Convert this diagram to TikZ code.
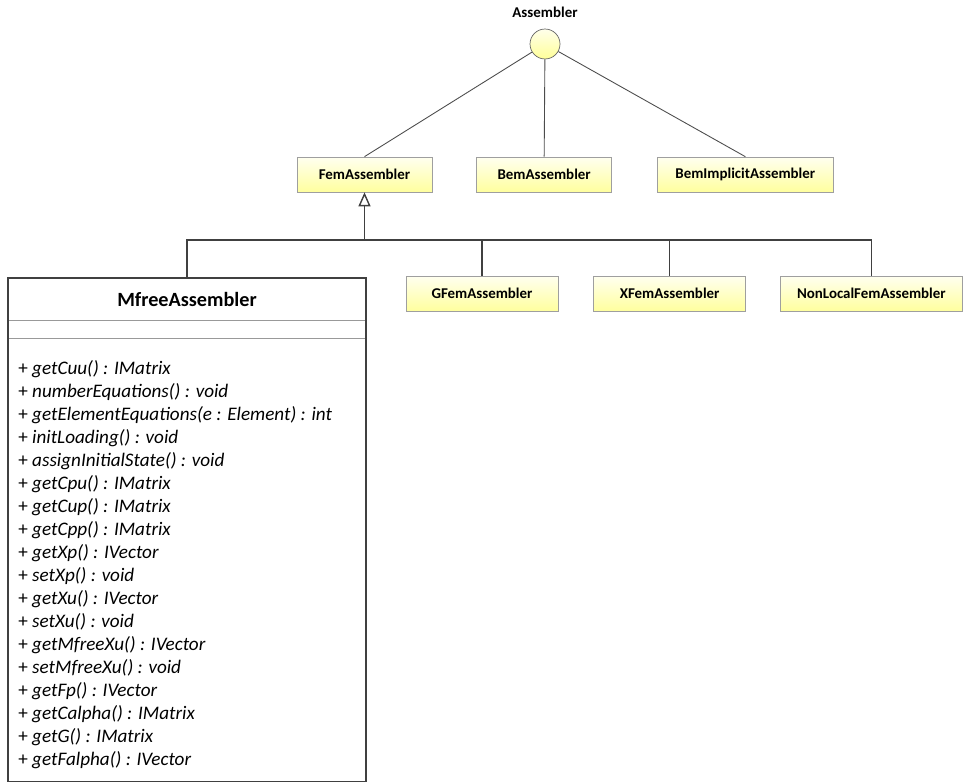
\documentclass[tikz,border=0pt]{standalone}
\usepackage{fontspec}
\setmainfont{Carlito}
\usepackage{tikz}
\usetikzlibrary{arrows.meta,positioning}

\begin{document}
\begin{tikzpicture}[
    x=0.02cm, y=-0.02cm,
    node distance=0.88cm and 0.88cm,
    every node/.style={font=\fontsize{8.5}{10}\selectfont\bfseries},
    box/.style={draw=gray!75, top color=yellow!6, bottom color=yellow!38, minimum height=0.7cm, minimum width=2.7cm, inner sep=0pt},
    iface/.style={circle, draw=gray!80!black, top color=yellow!8, bottom color=yellow!40, minimum size=0.6cm, inner sep=0pt},
    link/.style={draw=black!70, line width=0.5pt},
    gen/.style={draw=black!75, line width=0.8pt},
    arr/.style={gen, -{Triangle[open, length=0.28cm, width=0.24cm]}},
    method/.style={anchor=base west, inner sep=0pt, font=\fontsize{10.9}{12}\selectfont},
]
    \useasboundingbox (0,0) rectangle (963,781);

    % interface
    \node[iface] (asm) at (545,44) {};
    \node[above=0.1cm of asm] (asmlabel) {Assembler};

    % first row
    \node[box] (fem) at (364.5,174.5) {FemAssembler};
    \node[box, right=of fem] (bem) {BemAssembler};
    \node[box, minimum width=3.52cm, right=0.9cm of bem] (bemimpl) {BemImplicitAssembler};

    \draw[link] (asm) -- (fem.north);
    \draw[link] (asm) -- (bem.north);
    \draw[link] (asm) -- (bemimpl.north);

    % second row
    \node[box, minimum width=3.04cm] (gfem) at (482,293.5) {GFemAssembler};
    \node[box, minimum width=3.04cm, right=0.7cm of gfem] (xfem) {XFemAssembler};
    \node[box, minimum width=3.64cm, right=0.68cm of xfem] (nlfem) {NonLocalFemAssembler};

    % MfreeAssembler class
    \node[anchor=north, minimum width=7.16cm, minimum height=0.84cm, inner sep=0pt,
          font=\fontsize{11.5}{13}\selectfont\bfseries] (mfree) at (187,278) {MfreeAssembler};
    \node[below=0cm of mfree, minimum width=7.16cm, minimum height=0.34cm, inner sep=0pt] (mfreeattr) {};
    \node[below=0cm of mfreeattr, minimum width=7.16cm, minimum height=8.86cm, inner sep=0pt] (mfreeops) {};
    \draw[draw=gray!80] (mfreeattr.north west) -- (mfreeattr.north east);
    \draw[draw=gray!80] (mfreeattr.south west) -- (mfreeattr.south east);
    \draw[draw=black!75, line width=1.1pt] (mfree.north west) rectangle (mfreeops.south east);

    \foreach \m [count=\i] in {
        getCuu() : IMatrix,
        numberEquations() : void,
        getElementEquations(e : Element) : int,
        initLoading() : void,
        assignInitialState() : void,
        getCpu() : IMatrix,
        getCup() : IMatrix,
        getCpp() : IMatrix,
        getXp() : IVector,
        setXp() : void,
        getXu() : IVector,
        setXu() : void,
        getMfreeXu() : IVector,
        setMfreeXu() : void,
        getFp() : IVector,
        getCalpha() : IMatrix,
        getG() : IMatrix,
        getFalpha() : IVector}
        \node[method] (op\i) at (18,{351+23*\i}) {+ \textit{\m}};

    % generalization
    \coordinate (bus) at (364.5,240);
    \draw[arr] (bus) -- (fem.south);
    \draw[gen] (mfree.north) |- (bus);
    \draw[gen] (gfem.north) |- (bus);
    \draw[gen] (xfem.north) |- (bus);
    \draw[gen] (nlfem.north) |- (bus);
\end{tikzpicture}
\end{document}
